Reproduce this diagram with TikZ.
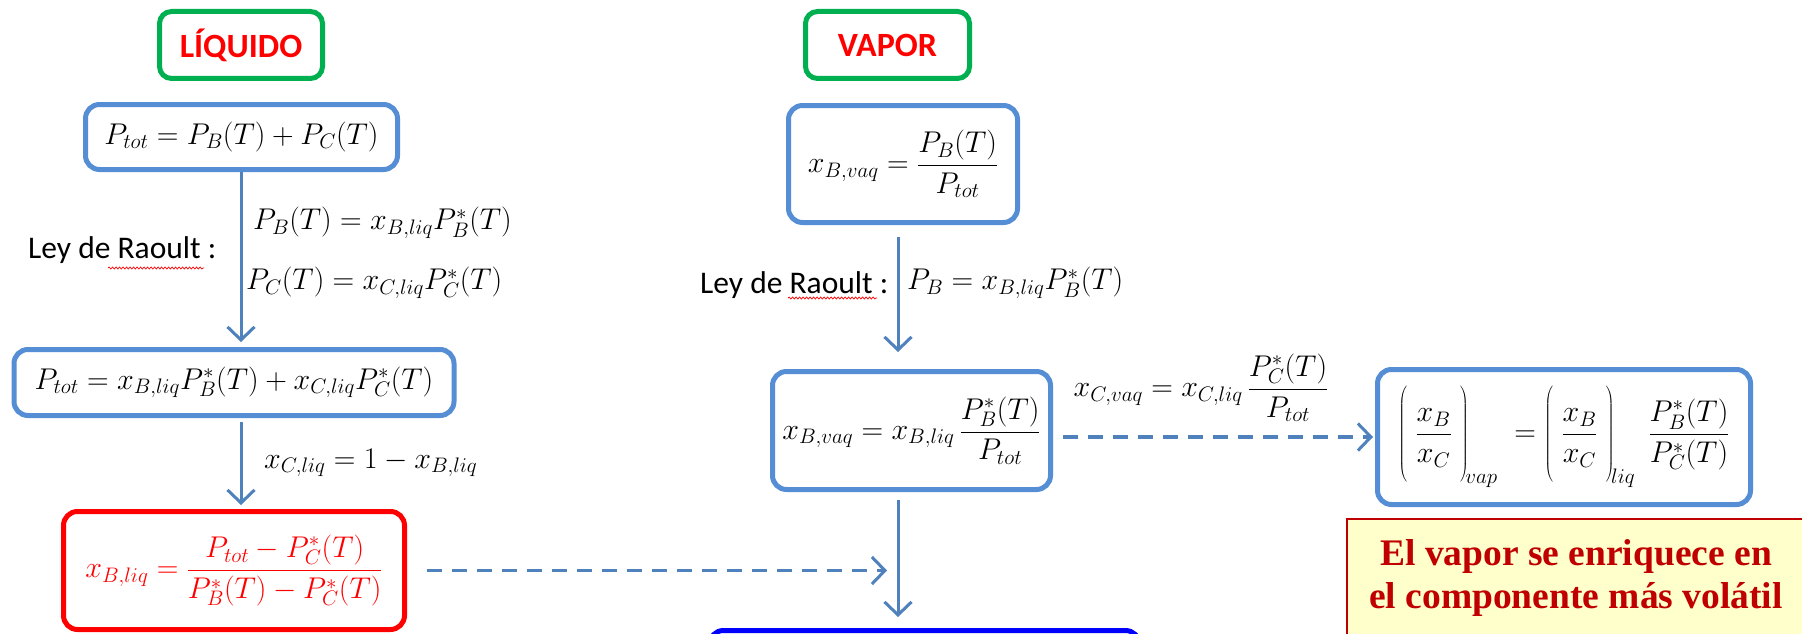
\RequirePackage{fix-cm}
\documentclass[tikz,border=0pt]{standalone}
\usepackage{fontspec}
\newfontfamily\carlito{Carlito}
\newfontfamily\timesf{Liberation Serif}
\usetikzlibrary{arrows.meta,decorations.pathmorphing}
\definecolor{boxblue}{RGB}{85,142,213}
\definecolor{arrblue}{RGB}{79,129,189}
\definecolor{grn}{RGB}{0,176,80}
\definecolor{darkred}{RGB}{192,0,0}
\definecolor{lightyel}{RGB}{255,255,204}
\begin{document}
\begin{tikzpicture}[x=1pt,y=-1pt,
  phase/.style={draw=grn,line width=5pt,rounded corners=12pt,text=red,
    font=\carlito\bfseries\fontsize{34}{40}\selectfont,
    minimum width=163pt,minimum height=67pt,inner sep=0pt},
  eqbox/.style={draw=boxblue,line width=5pt,rounded corners=14pt,inner sep=0pt,
    font=\fontsize{30}{36}\selectfont},
  eqtxt/.style={inner sep=0pt,font=\fontsize{30}{36}\selectfont},
  ley/.style={inner sep=0pt,font=\carlito\fontsize{31.5}{36}\selectfont},
  notetxt/.style={inner sep=0pt,text=darkred,font=\timesf\bfseries\fontsize{37.5}{43}\selectfont},
  arr/.style={draw=arrblue,line width=3pt,-{Straight Barb[length=13pt,width=27pt]}},
  dasharr/.style={draw=arrblue,line width=3.5pt,dash pattern=on 15pt off 10pt,-{Straight Barb[length=13pt,width=27pt,line width=3pt]}},
  squig/.style={draw=red,line width=0.7pt,decorate,decoration={snake,amplitude=1pt,segment length=3.5pt}}
]
\clip (0,0) rectangle (1802,634);
\fill[white] (0,0) rectangle (1802,634);

% column coordinates
\coordinate (coll) at (241,0);
\coordinate (colv) at (898,0);

% headers
\node[phase] (liq) at (241,45) {LÍQUIDO};
\node[phase,minimum width=164pt] (vap) at (887.5,45) {VAPOR};

% liquid column
\node[eqbox,minimum width=312pt,minimum height=65pt] (b1) at (241.5,137) {$P_{tot}=P_B(T)+P_C(T)$};
\node[ley,anchor=base west] (ley1) at (28,258) {Ley de Raoult :};
\node[eqtxt,anchor=west] (e1) at (253,223) {$P_B(T)=x_{B,liq}P_B^*(T)$};
\node[eqtxt,anchor=west] (e2) at (246,283) {$P_C(T)=x_{C,liq}P_C^*(T)$};
\node[eqbox,minimum width=440pt,minimum height=66pt] (b2) at (234,382.5) {$P_{tot}=x_{B,liq}P_B^*(T)+x_{C,liq}P_C^*(T)$};
\node[eqtxt,anchor=west] (e3) at (264,463) {$x_{C,liq}=1-x_{B,liq}$};
\node[eqbox,draw=red,text=red,minimum width=341pt,minimum height=118pt] (xl) at (234,570.5)
  {$\displaystyle x_{B,liq}=\frac{P_{tot}-P_C^*(T)}{P_B^*(T)-P_C^*(T)}$};

% vapour column
\node[eqbox,minimum width=229pt,minimum height=117pt] (xv) at (903,164) {$\displaystyle x_{B,vaq}=\frac{P_B(T)}{P_{tot}}$};
\node[ley,anchor=base west] (ley2) at (700,293) {Ley de Raoult :};
\node[eqtxt,anchor=west] (e4) at (907,283) {$P_B=x_{B,liq}P_B^*(T)$};
\node[eqbox,minimum width=278pt,minimum height=118pt] (xv2) at (911.5,430.5)
  {$\displaystyle x_{B,vaq}=x_{B,liq}\,\frac{P_B^*(T)}{P_{tot}}$};
\node[eqtxt] (e5) at (1201,388) {$\displaystyle x_{C,vaq}=x_{C,liq}\,\frac{P_C^*(T)}{P_{tot}}$};
\node[eqbox,minimum width=373pt,minimum height=135pt] (ratio) at (1564,437)
  {$\displaystyle \left(\;\frac{x_B}{x_C}\;\vrule height 56pt depth 41pt width 0pt\right)_{\!vap}\;=\left(\;\frac{x_B}{x_C}\;\vrule height 56pt depth 41pt width 0pt\right)_{\!liq}\;\frac{P_B^*(T)}{P_C^*(T)}$};
\node[draw=blue,line width=5pt,rounded corners=14pt,minimum width=430pt,minimum height=100pt,inner sep=0pt] (res) at (924.5,680.5) {};

% note
\node[draw=darkred,line width=1.5pt,fill=lightyel,minimum width=520pt,minimum height=160pt,anchor=north west,inner sep=0pt] (note) at (1346,518) {};
\node[notetxt,anchor=base] (n1) at (1576,565) {El vapor se enriquece en};
\node[notetxt,anchor=base] (n2) at (1576,608) {el componente más volátil};

% spell-check underlines
\draw[squig] (108,268) -- (204,268);
\draw[squig] (788,298) -- (877,298);

% connectors
\draw[arr,shorten >=5pt] (coll |- b1.south) -- (coll |- b2.north);
\draw[arr,shorten <=4pt,shorten >=4pt] (coll |- b2.south) -- (coll |- xl.north);
\draw[arr,shorten <=12pt,shorten >=17pt] (colv |- xv.south) -- (colv |- xv2.north);
\draw[arr,shorten <=8pt,shorten >=11pt] (colv |- xv2.south) -- (colv |- res.north);
\draw[dasharr,shorten <=20pt,shorten >=11pt] (xl.east) -- (colv |- xl.east);
\draw[dasharr,shorten <=10pt,shorten >=2pt] (xv2.east |- ratio.west) -- (ratio.west);
\end{tikzpicture}
\end{document}
